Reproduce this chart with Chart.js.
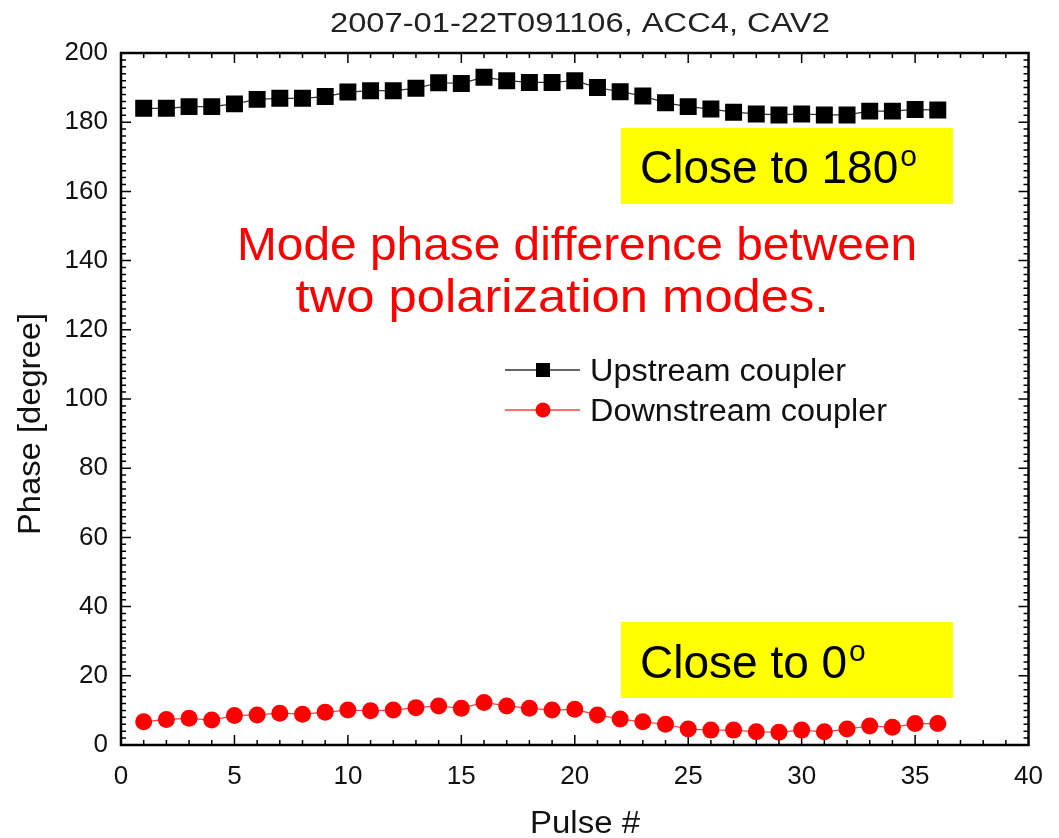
<!DOCTYPE html>
<html>
<head>
<meta charset="utf-8">
<script src="https://cdn.jsdelivr.net/npm/chart.js@4.4.0/dist/chart.umd.min.js"></script>
<style>
  html, body { margin: 0; padding: 0; background: #fff; }
  #wrap { width: 1059px; height: 838px; }
</style>
</head>
<body>
<div id="wrap"><canvas id="phaseChart" width="1059" height="838"></canvas></div>
<script>
// pulse number vs measured phase (degrees)
const pulses = [1, 2, 3, 4, 5, 6, 7, 8, 9, 10, 11, 12, 13, 14, 15, 16, 17, 18,
                19, 20, 21, 22, 23, 24, 25, 26, 27, 28, 29, 30, 31, 32, 33, 34, 35, 36]
const upstream = [184.0, 184.0, 184.5, 184.5, 185.3, 186.6, 186.9, 186.9, 187.4, 188.7, 189.1, 189.1,
                  189.8, 191.4, 191.2, 193.0, 192.0, 191.5, 191.5, 192.0, 190.0, 188.8, 187.6, 185.6,
                  184.5, 183.8, 182.9, 182.4, 182.1, 182.4, 182.1, 182.1, 183.2, 183.2, 183.7, 183.5]
const downstream = [6.7, 7.4, 7.7, 7.2, 8.5, 8.7, 9.2, 8.9, 9.5, 10.1, 9.9, 10.1,
                    10.8, 11.3, 10.6, 12.3, 11.3, 10.6, 10.1, 10.3, 8.7, 7.5, 6.7, 6.0,
                    4.6, 4.3, 4.3, 3.8, 3.7, 4.3, 3.8, 4.6, 5.5, 5.1, 6.2, 6.2]
const seriesNames = ["Upstream coupler", "Downstream coupler"]
const titleText = "2007-01-22T091106, ACC4, CAV2"
const xTitle = "Pulse #"
const yTitle = "Phase [degree]"
const noteText = ["Mode phase difference between", "two polarization modes."]

const FONT = "'Liberation Sans', Arial, sans-serif"

// draws text squeezed/stretched to a given width
function fitText(ctx, text, x, y, size, width, align) {
    ctx.save()
    ctx.font = size + "px " + FONT
    let w = ctx.measureText(text).width
    let sx = width / w
    let left = align === "center" ? x - width / 2 : x
    ctx.translate(left, y)
    ctx.scale(sx, 1)
    ctx.textAlign = "left"
    ctx.textBaseline = "alphabetic"
    ctx.fillText(text, 0, 0)
    ctx.restore()
}

// frame with inward major/minor ticks on all four sides
const frameTicks = {
    id: "frameTicks",
    beforeDatasetsDraw(chart) {
        const { ctx, chartArea: a, scales: { x, y } } = chart
        ctx.save()
        ctx.strokeStyle = "#000"
        ctx.lineWidth = 1.5
        ctx.beginPath()
        for (let v = 1; v < 40; v++) {
            let px = x.getPixelForValue(v)
            let len = v % 5 === 0 ? 10 : 5
            ctx.moveTo(px, a.bottom); ctx.lineTo(px, a.bottom - len)
            ctx.moveTo(px, a.top); ctx.lineTo(px, a.top + len)
        }
        for (let v = 2; v < 200; v += 2) {
            let py = y.getPixelForValue(v)
            let len = v % 20 === 0 ? 10 : 5
            ctx.moveTo(a.left, py); ctx.lineTo(a.left + len, py)
            ctx.moveTo(a.right, py); ctx.lineTo(a.right - len, py)
        }
        ctx.stroke()
        ctx.lineWidth = 2.5
        ctx.strokeRect(a.left, a.top, a.right - a.left, a.bottom - a.top)
        ctx.restore()
    }
}

// title, axis titles, notes, yellow labels and legend
const overlay = {
    id: "overlay",
    afterDraw(chart) {
        const ctx = chart.ctx
        ctx.save()
        ctx.fillStyle = "#222"
        fitText(ctx, titleText, 580, 32, 27, 500, "center")

        ctx.fillStyle = "#111"
        fitText(ctx, xTitle, 585, 833, 31, 110, "center")
        ctx.save()
        ctx.translate(40, 424)
        ctx.rotate(-Math.PI / 2)
        fitText(ctx, yTitle, 0, 0, 31, 222, "center")
        ctx.restore()

        ctx.fillStyle = "#ff0000"
        fitText(ctx, noteText[0], 577, 260, 47, 680, "center")
        fitText(ctx, noteText[1], 562, 312, 47, 533, "center")

        // yellow boxes
        const boxes = [
            { top: 128, text: "Close to 180", base: 183 },
            { top: 622, text: "Close to 0", base: 678 }
        ]
        boxes.forEach(b => {
            ctx.fillStyle = "#ffff00"
            ctx.fillRect(621, b.top, 332, 76)
            ctx.fillStyle = "#000"
            ctx.font = "46px " + FONT
            ctx.textAlign = "left"
            ctx.textBaseline = "alphabetic"
            ctx.fillText(b.text, 640, b.base)
            let w = ctx.measureText(b.text).width
            ctx.font = "30px " + FONT
            ctx.fillText("o", 640 + w + 2, b.base - 17)
        })

        // legend
        const ds = chart.data.datasets
        ds.forEach((d, i) => {
            let ly = 370 + i * 40
            ctx.strokeStyle = d.borderColor
            ctx.lineWidth = 1.5
            ctx.beginPath()
            ctx.moveTo(505, ly); ctx.lineTo(580, ly)
            ctx.stroke()
            ctx.fillStyle = d.pointBackgroundColor
            if (d.pointStyle === "rect") {
                ctx.fillRect(536, ly - 7, 14, 14)
            } else {
                ctx.beginPath()
                ctx.arc(543, ly, 7.5, 0, Math.PI * 2)
                ctx.fill()
            }
            ctx.fillStyle = "#111"
            fitText(ctx, d.label, 590, ly + 11, 31, i === 0 ? 256 : 297, "left")
        })
        ctx.restore()
    }
}

new Chart("phaseChart", {
    type: "line",
    data: {
        labels: pulses,
        datasets: [
            {
                label: seriesNames[0],
                data: pulses.map((p, i) => ({ x: p, y: upstream[i] })),
                borderColor: "#333333",
                borderWidth: 1.2,
                pointStyle: "rect",
                pointRadius: 12,
                pointBackgroundColor: "#000000",
                pointBorderColor: "#000000",
                pointBorderWidth: 0,
                tension: 0
            },
            {
                label: seriesNames[1],
                data: pulses.map((p, i) => ({ x: p, y: downstream[i] })),
                borderColor: "#ff4040",
                borderWidth: 1.2,
                pointStyle: "circle",
                pointRadius: 8.5,
                pointBackgroundColor: "#ff0000",
                pointBorderColor: "#ff0000",
                pointBorderWidth: 0,
                tension: 0
            }
        ]
    },
    options: {
        responsive: false,
        animation: false,
        devicePixelRatio: 1,
        layout: { padding: { top: 53, right: 19, left: 0, bottom: 0 } },
        plugins: {
            legend: { display: false },
            title: { display: false },
            tooltip: { enabled: false }
        },
        scales: {
            x: {
                type: "linear",
                min: 0,
                max: 40,
                ticks: { stepSize: 5, color: "#111", padding: 16, font: { size: 26, family: FONT } },
                grid: { display: false, drawTicks: false },
                border: { display: false },
                afterFit(s) { s.height = 93 }
            },
            y: {
                min: 0,
                max: 200,
                ticks: { stepSize: 20, color: "#111", padding: 13, font: { size: 26, family: FONT } },
                grid: { display: false, drawTicks: false },
                border: { display: false },
                afterFit(s) { s.width = 121 }
            }
        }
    },
    plugins: [frameTicks, overlay]
})
</script>
</body>
</html>
